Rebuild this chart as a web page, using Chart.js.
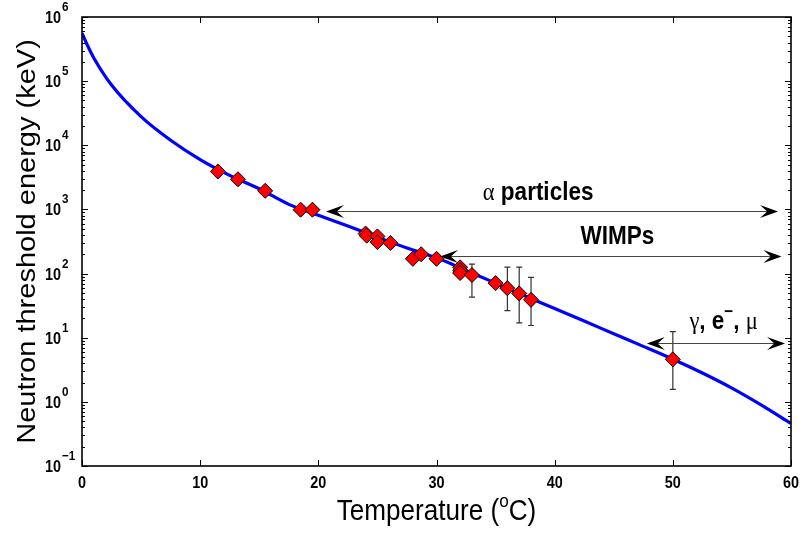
<!DOCTYPE html>
<html>
<head>
<meta charset="utf-8">
<script src="https://cdn.jsdelivr.net/npm/chart.js@4.4.0/dist/chart.umd.min.js"></script>
<style>
    html, body { margin: 0; padding: 0; background: #fff; }
    #wrap { width: 802px; height: 533px; }
</style>
</head>
<body>
<div id="wrap"><canvas id="chart" width="802" height="533"></canvas></div>
<script>
// Model curve: neutron threshold energy (keV) vs temperature (C)
const curveTemp = [0, 0.5, 1, 2.5, 5, 7.5, 10, 12.5, 15, 17.5, 20, 22.5, 25, 27.5, 30, 32.5, 35, 37.5, 40, 42.5, 45, 47.5, 50, 52.5, 55, 57.5, 60];
const curveEnergy = [5.6e5, 3.5e5, 2.3e5, 8.7e4, 2.8e4, 1.2e4, 6.0e3, 3.4e3, 2.1e3, 1.2e3, 810, 550, 370, 250, 176, 112, 71, 44.7, 28.5, 18.2, 11.5, 7.33, 4.62, 2.82, 1.64, 0.89, 0.46];

// Measured thresholds (red diamonds)
const measTemp = [11.5, 13.2, 15.5, 18.5, 19.5, 24.0, 24.1, 25.0, 25.0, 26.1, 28.0, 28.7, 30.0, 32.0, 32.0, 32.0, 33.0, 35.0, 36.0, 37.0, 38.0, 50.0];
const measEnergy = [3900, 2950, 1950, 990, 990, 420, 390, 380, 310, 300, 170, 200, 170, 125, 112, 102, 95, 71, 59, 49, 39, 4.6];

// Error bars
const errTemp = [33.0, 36.0, 37.0, 38.0, 50.0];
const errLow = [43, 26.5, 17, 15.5, 1.57];
const errHigh = [140, 126, 126, 87, 12.4];

// Background ranges (double arrows)
const arrowFrom = [20.65, 30.3, 47.8];
const arrowTo = [58.9, 59.2, 59.5];
const arrowEnergy = [960, 189, 8.4];
const labelTemp = [38.6, 45.3, 54.3];
const labelEnergy = [1380, 285, 13.5];

// Axis ticks
const xTicks = [0, 10, 20, 30, 40, 50, 60];
const yTickExps = [-1, 0, 1, 2, 3, 4, 5, 6];

const SX = 0.9; // text in the reference is slightly condensed horizontally
const SANS = '"Liberation Sans", Arial, sans-serif';
const SERIF = '"Liberation Serif", "Times New Roman", serif';

function drawParts(ctx, parts, x, y, align) {
    let w = 0;
    parts.forEach(p => {
        ctx.font = p.font;
        p.w = ctx.measureText(p.text).width;
        w += p.w;
    });
    ctx.save();
    ctx.translate(x, y);
    ctx.scale(SX, 1);
    let cx = align === 'center' ? -w / 2 : (align === 'right' ? -w : 0);
    parts.forEach(p => {
        ctx.font = p.font;
        ctx.fillText(p.text, cx, p.dy || 0);
        cx += p.w;
    });
    ctx.restore();
}

function drawHead(ctx, x, y, dir) {
    const L = 18, W = 6.5;
    ctx.beginPath();
    ctx.moveTo(x, y);
    ctx.lineTo(x + dir * L, y - W);
    ctx.lineTo(x + dir * L * 0.6, y);
    ctx.lineTo(x + dir * L, y + W);
    ctx.closePath();
    ctx.fill();
}

const errorBars = {
    id: 'errorBars',
    beforeDatasetsDraw(chart) {
        const ctx = chart.ctx, xs = chart.scales.x, ys = chart.scales.y;
        ctx.save();
        ctx.strokeStyle = '#333';
        ctx.lineWidth = 1.2;
        errTemp.forEach((t, i) => {
            const px = xs.getPixelForValue(t);
            const y1 = ys.getPixelForValue(errLow[i]);
            const y2 = ys.getPixelForValue(errHigh[i]);
            ctx.beginPath();
            ctx.moveTo(px, y1); ctx.lineTo(px, y2);
            ctx.moveTo(px - 3, y1); ctx.lineTo(px + 3, y1);
            ctx.moveTo(px - 3, y2); ctx.lineTo(px + 3, y2);
            ctx.stroke();
        });
        ctx.restore();
    }
};

const decorations = {
    id: 'decorations',
    afterDatasetsDraw(chart) {
        const ctx = chart.ctx, xs = chart.scales.x, ys = chart.scales.y;
        ctx.save();
        // range arrows
        arrowFrom.forEach((t, i) => {
            const xa = xs.getPixelForValue(t);
            const xb = xs.getPixelForValue(arrowTo[i]);
            const py = Math.round(ys.getPixelForValue(arrowEnergy[i])) + 0.5;
            ctx.strokeStyle = '#444';
            ctx.lineWidth = 1.2;
            ctx.beginPath();
            ctx.moveTo(xa + 8, py); ctx.lineTo(xb - 8, py);
            ctx.stroke();
            ctx.fillStyle = '#000';
            drawHead(ctx, xa, py, 1);
            drawHead(ctx, xb, py, -1);
        });
        // range labels
        ctx.fillStyle = '#000';
        ctx.textBaseline = 'alphabetic';
        const bold = 'bold 25px ' + SANS;
        const greek = '25px ' + SERIF;
        const labels = [
            [{ text: 'α', font: greek }, { text: ' particles', font: bold }],
            [{ text: 'WIMPs', font: bold }],
            [{ text: 'γ', font: greek }, { text: ', e', font: bold },
             { text: '−', font: 'bold 17px ' + SANS, dy: -12 }, { text: ', ', font: bold }, { text: 'μ', font: greek }]
        ];
        labels.forEach((parts, i) => {
            drawParts(ctx, parts, xs.getPixelForValue(labelTemp[i]), ys.getPixelForValue(labelEnergy[i]), 'center');
        });
        ctx.restore();
    },
    afterDraw(chart) {
        const ctx = chart.ctx, a = chart.chartArea, xs = chart.scales.x, ys = chart.scales.y;
        ctx.save();
        ctx.strokeStyle = '#000';
        ctx.lineWidth = 1;
        ctx.beginPath();
        // x ticks, bottom and top, pointing inward
        xTicks.forEach(t => {
            const px = Math.round(xs.getPixelForValue(t)) + 0.5;
            ctx.moveTo(px, a.bottom); ctx.lineTo(px, a.bottom - 6);
            ctx.moveTo(px, a.top); ctx.lineTo(px, a.top + 6);
        });
        // y ticks: decades and log minors, left and right
        yTickExps.forEach(e => {
            for (let m = 1; m <= 9; m++) {
                if (e === 6 && m > 1) break;
                const py = Math.round(ys.getPixelForValue(m * Math.pow(10, e))) + 0.5;
                const len = m === 1 ? 6 : 3;
                ctx.moveTo(a.left, py); ctx.lineTo(a.left + len, py);
                ctx.moveTo(a.right, py); ctx.lineTo(a.right - len, py);
            }
        });
        ctx.stroke();
        // frame
        ctx.lineWidth = 1.6;
        ctx.strokeRect(a.left, a.top, a.right - a.left, a.bottom - a.top);

        ctx.fillStyle = '#000';
        ctx.textBaseline = 'alphabetic';
        // x tick labels
        xTicks.forEach(t => {
            drawParts(ctx, [{ text: String(t), font: 'bold 16px ' + SANS }], xs.getPixelForValue(t), 488, 'center');
        });
        // y tick labels: 10 with superscript exponent
        yTickExps.forEach(e => {
            const py = ys.getPixelForValue(Math.pow(10, e));
            drawParts(ctx, [
                { text: '10', font: 'bold 16px ' + SANS },
                { text: ' ', font: 'bold 4px ' + SANS },
                { text: e < 0 ? '−' + Math.abs(e) : String(e), font: 'bold 13px ' + SANS, dy: -12 }
            ], 45, py + 6, 'left');
        });
        // x axis title
        drawParts(ctx, [
            { text: 'Temperature (', font: '29px ' + SANS },
            { text: 'o', font: '19px ' + SANS, dy: -13 },
            { text: 'C)', font: '29px ' + SANS }
        ], (a.left + a.right) / 2, 520, 'center');
        // y axis title, rotated
        ctx.translate(35, (a.top + a.bottom) / 2);
        ctx.rotate(-Math.PI / 2);
        ctx.scale(1, SX);
        ctx.font = '29px ' + SANS;
        ctx.textAlign = 'center';
        ctx.fillText('Neutron threshold energy (keV)', 0, 0);
        ctx.restore();
    }
};

new Chart(document.getElementById('chart').getContext('2d'), {
    type: 'scatter',
    data: {
        datasets: [{
            label: 'Measured',
            data: measTemp.map((t, i) => ({ x: t, y: measEnergy[i] })),
            showLine: false,
            pointStyle: 'rectRot',
            pointRadius: 7.5,
            backgroundColor: '#ff0000',
            borderColor: '#000',
            borderWidth: 1
        }, {
            label: 'Threshold',
            data: curveTemp.map((t, i) => ({ x: t, y: curveEnergy[i] })),
            showLine: true,
            pointRadius: 0,
            borderColor: '#0000ff',
            borderWidth: 3.2,
            cubicInterpolationMode: 'monotone'
        }]
    },
    options: {
        responsive: false,
        devicePixelRatio: 1,
        animation: false,
        layout: { padding: { left: 0, right: 11, top: 17, bottom: 0 } },
        plugins: { legend: { display: false }, tooltip: { enabled: false } },
        scales: {
            x: {
                type: 'linear', min: 0, max: 60,
                grid: { display: false }, border: { display: false },
                ticks: { display: false },
                afterFit: s => { s.height = 67; }
            },
            y: {
                type: 'logarithmic', min: 0.1, max: 1e6,
                grid: { display: false }, border: { display: false },
                ticks: { display: false },
                afterFit: s => { s.width = 82; }
            }
        }
    },
    plugins: [errorBars, decorations]
});
</script>
</body>
</html>
